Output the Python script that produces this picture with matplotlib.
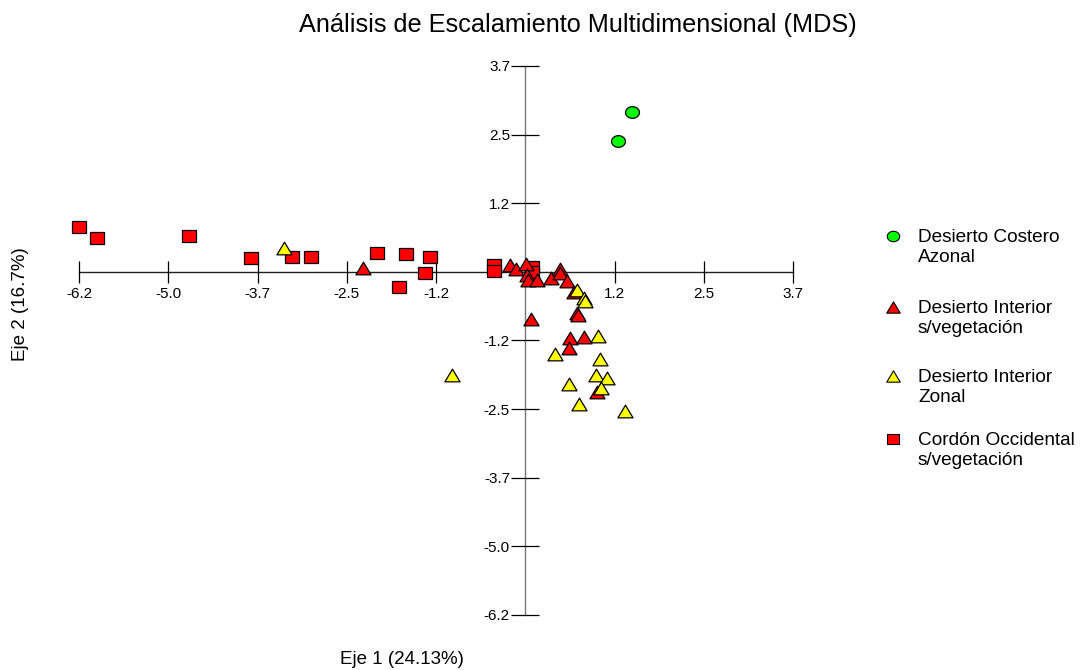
import matplotlib
matplotlib.use("Agg")
import matplotlib.pyplot as plt
import numpy as np
from matplotlib.path import Path

plt.rcParams['font.family'] = ['Liberation Sans', 'DejaVu Sans']

# ---------------- data ----------------
costero_x = [1.479, 1.293]
costero_y = [2.884, 2.371]

int_sveg_x = [-2.250, -0.212, -0.129, 0.006, 0.020, 0.042, 0.159, 0.354, 0.483, 0.483,
              0.584, 0.677, 0.080, 0.715, 0.726, 0.622, 0.816, 0.604, 1.001]
int_sveg_y = [0.065, 0.125, 0.052, 0.137, -0.056, -0.146, -0.146, -0.105, 0.052, -0.025,
              -0.164, -0.363, -0.856, -0.748, -0.788, -1.200, -1.171, -1.380, -2.165]

int_zonal_x = [-3.348, -1.022, 0.723, 0.820, 0.836, 1.007, 0.413, 1.043, 0.983, 1.132,
               1.052, 0.612, 0.751, 1.386]
int_zonal_y = [0.426, -1.863, -0.327, -0.472, -0.535, -1.158, -1.483, -1.579, -1.868, -1.912,
               -2.103, -2.026, -2.387, -2.508]

cordon_x = [-6.200, -5.954, -4.668, -3.810, -3.237, -2.977, -2.056, -1.657, -1.328, -1.389,
            -1.758, -0.441, -0.441, 0.090, 0.090]
cordon_y = [0.806, 0.607, 0.643, 0.246, 0.264, 0.275, 0.347, 0.329, 0.264, -0.014,
            -0.278, 0.116, 0.007, 0.083, -0.003]

labels = ["Desierto Costero\nAzonal", "Desierto Interior\ns/vegetación",
          "Desierto Interior\nZonal", "Cordón Occidental\ns/vegetación"]

tick_values = [-6.2, -4.96, -3.72, -2.48, -1.24, 1.24, 2.48, 3.72]
tick_labels = ["-6.2", "-5.0", "-3.7", "-2.5", "-1.2", "1.2", "2.5", "3.7"]

title = "Análisis de Escalamiento Multidimensional (MDS)"
xlabel = "Eje 1 (24.13%)"
ylabel = "Eje 2 (16.7%)"

# ---------------- figure ----------------
W, H = 1081, 670
fig = plt.figure(figsize=(W / 100, H / 100), dpi=100)
left, right, top, bottom = 79, 793, 66, 615
ax = fig.add_axes([left / W, (H - bottom) / H, (right - left) / W, (bottom - top) / H])
ax.set_xlim(-6.2, 3.72)
ax.set_ylim(-6.2, 3.72)

# markers slightly wider than tall, as in the original
t = np.linspace(0, 2 * np.pi, 60)
ell = Path(np.column_stack([np.cos(t), 0.84 * np.sin(t)]), closed=True)
rect = Path([(-1, -0.82), (1, -0.82), (1, 0.82), (-1, 0.82), (-1, -0.82)], closed=True)
tri = Path([(0, 0.84), (-1, -0.84), (1, -0.84), (0, 0.84)], closed=True)

colors = ['#00ff00', '#ff0000', '#ffff00', '#ff0000']
markers = [ell, tri, tri, rect]
sizes = [100, 118, 118, 108]

kw = dict(edgecolors='black', linewidths=0.9, clip_on=False, zorder=3)
ax.scatter(costero_x, costero_y, marker=markers[0], s=sizes[0], facecolors=colors[0], **kw)
ax.scatter(cordon_x, cordon_y, marker=markers[3], s=sizes[3], facecolors=colors[3], **kw)
ax.scatter(int_sveg_x, int_sveg_y, marker=markers[1], s=sizes[1], facecolors=colors[1], **kw)
ax.scatter(int_zonal_x, int_zonal_y, marker=markers[2], s=sizes[2], facecolors=colors[2], **kw)

# axes crossing at the origin
for s in ['top', 'right']:
    ax.spines[s].set_visible(False)
ax.spines['left'].set_position(('data', 0))
ax.spines['bottom'].set_position(('data', 0))
ax.spines['left'].set_color('#777777')
ax.spines['bottom'].set_color('#222222')
for s in ['left', 'bottom']:
    ax.spines[s].set_linewidth(1.0)
    ax.spines[s].set_zorder(1)

ax.set_xticks(tick_values)
ax.set_xticklabels(tick_labels)
ax.set_yticks(tick_values)
ax.set_yticklabels(tick_labels)
ax.tick_params(axis='x', direction='inout', length=16.5, width=0.9, pad=2.5,
               labelsize=11, colors='black')
ax.tick_params(axis='y', direction='inout', length=20, width=0.9, pad=1,
               labelsize=11, colors='black')
ax.patch.set_alpha(0)

fig.text(578 / W, 1 - 25 / H, title, ha='center', va='center', fontsize=18.2)
fig.text(402 / W, 1 - 660 / H, xlabel, ha='center', va='center', fontsize=13.5)
fig.text(21 / W, 1 - 304 / H, ylabel, ha='center', va='center', rotation=90, fontsize=13.5)

# ---------------- legend (pixel-coordinate overlay) ----------------
lax = fig.add_axes([0, 0, 1, 1])
lax.set_xlim(0, W)
lax.set_ylim(H, 0)
lax.axis('off')
marker_y = [236, 307, 376, 439]
for m, c, sz, lab, my in zip(markers, colors, sizes, labels, marker_y):
    lax.scatter([893], [my], marker=m, s=sz * 0.8, facecolors=c,
                edgecolors='black', linewidths=0.8)
    lax.text(918, my - 7, lab, ha='left', va='top', fontsize=13.7, linespacing=1.2)

fig.savefig("out.png", dpi=100)
